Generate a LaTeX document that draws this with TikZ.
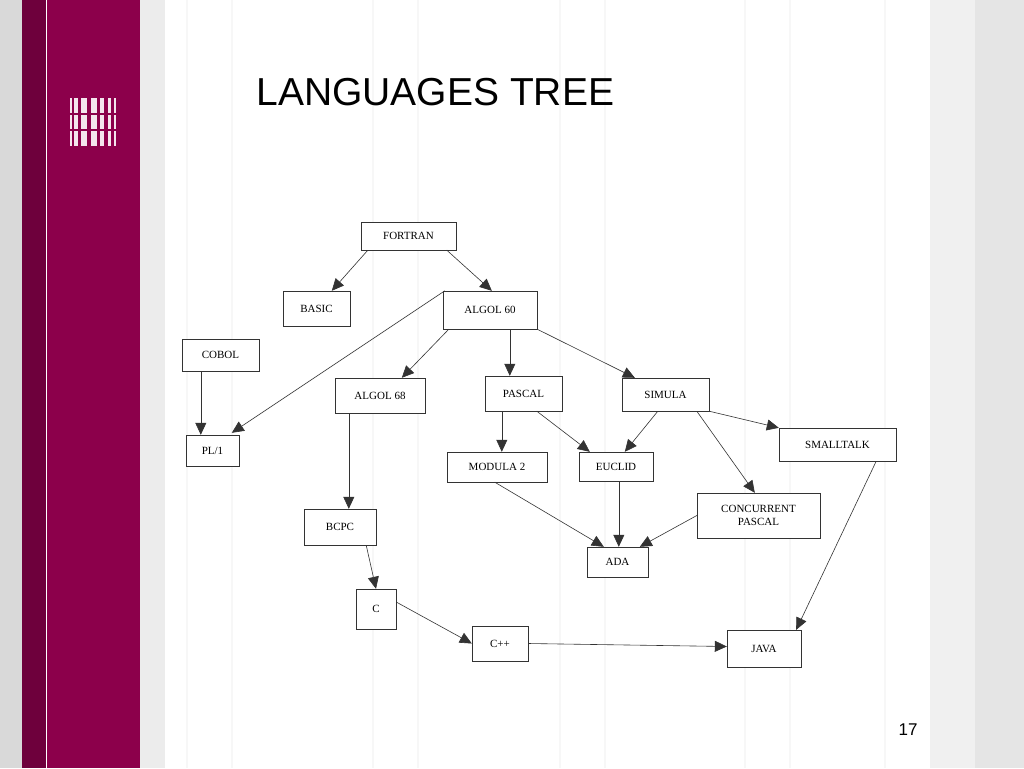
\documentclass[tikz,border=0pt]{standalone}
\usepackage{fontspec}
\setmainfont{Liberation Serif}
\newfontfamily\titlefont{Liberation Sans}
\usetikzlibrary{arrows.meta}
\definecolor{maroondark}{RGB}{110,0,60}
\definecolor{magentabar}{RGB}{140,0,75}
\begin{document}
\begin{tikzpicture}[x=1pt,y=-1pt]
    % Define styles
    \tikzset{lang/.style={rectangle, draw=black!80, fill=white, font=\fontsize{11}{12.5}\selectfont, align=center, inner sep=0pt},
             arrow/.style={-{Triangle[length=12pt,width=11pt]}, black!80, line width=0.6pt}}
    % Background
    \useasboundingbox (0,0) rectangle (1024,768);
    \fill[white] (0,0) rectangle (1024,768);
    \fill[gray!30] (0,0) rectangle (22,768);
    \fill[maroondark] (22,0) rectangle (46,768);
    \fill[magentabar] (47,0) rectangle (140,768);
    \fill[gray!15] (140,0) rectangle (165,768);
    \fill[gray!12] (930,0) rectangle (975,768);
    \fill[gray!20] (975,0) rectangle (1024,768);
    \foreach \x in {187,232,373,418,560,605,745,790,885} \draw[gray!6, line width=1.5pt] (\x,0) -- (\x,768);
    \foreach \x/\w in {70/2,74/4,81/6,91/6,100/4,108/3,114/2} \fill[white!90!magentabar] (\x,98) rectangle ++(\w,48);
    \fill[magentabar] (68,113) rectangle (118,115);
    \fill[magentabar] (68,129) rectangle (118,131);
    \node[anchor=west, font=\titlefont\fontsize{39}{42}\selectfont] (title) at (253,92) {LANGUAGES TREE};
    \node[font=\titlefont\fontsize{17}{19}\selectfont] (page) at (908,730) {17};

    % Nodes
    \node[lang, minimum width=95pt, minimum height=28pt] (fortran) at (408.5,236) {FORTRAN};
    \node[lang, minimum width=67pt, minimum height=35pt] (basic) at (316.5,308.5) {BASIC};
    \node[lang, minimum width=94pt, minimum height=38pt] (algol60) at (490,310) {ALGOL 60};
    \node[lang, minimum width=77pt, minimum height=32pt] (cobol) at (220.5,355) {COBOL};
    \node[lang, minimum width=53pt, minimum height=31pt] (pl1) at (212.5,450.5) {PL/1};
    \node[lang, minimum width=90pt, minimum height=35pt] (algol68) at (380,395.5) {ALGOL 68};
    \node[lang, minimum width=77pt, minimum height=35pt] (pascal) at (523.5,393.5) {PASCAL};
    \node[lang, minimum width=87pt, minimum height=33pt] (simula) at (665.5,394.5) {SIMULA};
    \node[lang, minimum width=117pt, minimum height=33pt] (smalltalk) at (837.5,444.5) {SMALLTALK};
    \node[lang, minimum width=100pt, minimum height=30pt] (modula) at (497,467) {MODULA 2};
    \node[lang, minimum width=74pt, minimum height=29pt] (euclid) at (616,466.5) {EUCLID};
    \node[lang, minimum width=123pt, minimum height=45pt] (concurrent) at (758.5,515.5) {CONCURRENT\\PASCAL};
    \node[lang, minimum width=72pt, minimum height=36pt] (bcpc) at (340,527) {BCPC};
    \node[lang, minimum width=61pt, minimum height=30pt] (ada) at (617.5,562) {ADA};
    \node[lang, minimum width=40pt, minimum height=40pt] (c) at (376,609) {C};
    \node[lang, minimum width=56pt, minimum height=35pt] (cpp) at (500,643.5) {C++};
    \node[lang, minimum width=74pt, minimum height=37pt] (java) at (764,648.5) {JAVA};

    % Arrows
    \draw[arrow] ([xshift=7pt]fortran.south west) -- ([xshift=49pt]basic.north west);
    \draw[arrow] ([xshift=86pt]fortran.south west) -- ([xshift=49pt]algol60.north west);
    \draw[arrow] ([xshift=2pt]algol60.north west) -- ([xshift=46pt,yshift=2pt]pl1.north west);
    \draw[arrow] ([xshift=6pt]algol60.south west) -- ([xshift=67pt]algol68.north west);
    \draw[arrow] ([xshift=67pt]algol60.south west) -- ([xshift=25pt]pascal.north west);
    \draw[arrow] (algol60.south east) -- ([xshift=13pt]simula.north west);
    \draw[arrow] ([xshift=19pt]cobol.south west) -- ([xshift=15pt]pl1.north west);
    \draw[arrow] ([xshift=14pt]algol68.south west) -- ([xshift=45pt]bcpc.north west);
    \draw[arrow] ([xshift=17pt]pascal.south west) -- ([xshift=55pt]modula.north west);
    \draw[arrow] ([xshift=52pt]pascal.south west) -- ([xshift=11pt]euclid.north west);
    \draw[arrow] ([xshift=36pt]simula.south west) -- ([xshift=46pt]euclid.north west);
    \draw[arrow] ([xshift=75pt]simula.south west) -- ([xshift=58pt]concurrent.north west);
    \draw[arrow] (simula.south east) -- (smalltalk.north west);
    \draw[arrow] ([xshift=-20pt]smalltalk.south east) -- ([xshift=-5pt]java.north east);
    \draw[arrow] ([xshift=48pt]modula.south west) -- ([xshift=17pt]ada.north west);
    \draw[arrow] ([xshift=40pt]euclid.south west) -- ([xshift=32pt]ada.north west);
    \draw[arrow] (concurrent.west) -- ([xshift=53pt]ada.north west);
    \draw[arrow] ([xshift=-10pt]bcpc.south east) -- (c.north);
    \draw[arrow] ([yshift=7pt]c.east) -- (cpp.west);
    \draw[arrow] (cpp.east) -- ([yshift=2pt]java.west);
\end{tikzpicture}
\end{document}
